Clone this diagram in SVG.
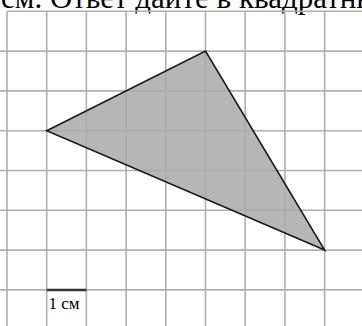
<svg xmlns="http://www.w3.org/2000/svg" width="362" height="326" viewBox="0 0 362 326">
<style>
.grid line{stroke:#b0b0b0;stroke-width:1.6}
.txt{font-family:"Liberation Serif","Times New Roman",serif;fill:#000}
</style>
<rect width="362" height="326" fill="#fff"/>
<text class="txt" x="1" y="8" font-size="31">см. Ответ дайте в квадратных</text>
<g id="grid" class="grid">
<line x1="7" y1="11.3" x2="7" y2="326"/>
<line x1="46.7" y1="11.3" x2="46.7" y2="326"/>
<line x1="86.4" y1="11.3" x2="86.4" y2="326"/>
<line x1="126.1" y1="11.3" x2="126.1" y2="326"/>
<line x1="165.8" y1="11.3" x2="165.8" y2="326"/>
<line x1="205.5" y1="11.3" x2="205.5" y2="326"/>
<line x1="245.2" y1="11.3" x2="245.2" y2="326"/>
<line x1="284.9" y1="11.3" x2="284.9" y2="326"/>
<line x1="324.6" y1="11.3" x2="324.6" y2="326"/>
<line x1="7" y1="11.3" x2="362" y2="11.3"/>
<line x1="0" y1="51.1" x2="362" y2="51.1"/>
<line x1="0" y1="90.9" x2="362" y2="90.9"/>
<line x1="0" y1="130.7" x2="362" y2="130.7"/>
<line x1="0" y1="170.5" x2="362" y2="170.5"/>
<line x1="0" y1="210.3" x2="362" y2="210.3"/>
<line x1="0" y1="250.1" x2="362" y2="250.1"/>
<line x1="0" y1="289.9" x2="362" y2="289.9"/>
</g>
<g id="triangle">
<polygon points="46.7,130.7 205.5,51.1 324.6,250.1" fill="#a9a9a9" fill-opacity="0.85" stroke="#1a1a1a" stroke-width="1.6" stroke-linejoin="miter"/>
</g>
<g id="scale">
<line x1="46.7" y1="290" x2="86.4" y2="290" stroke="#333" stroke-width="2.6"/>
<text class="txt" x="48.5" y="309" font-size="17" fill="#333">1 см</text>
</g>
</svg>
